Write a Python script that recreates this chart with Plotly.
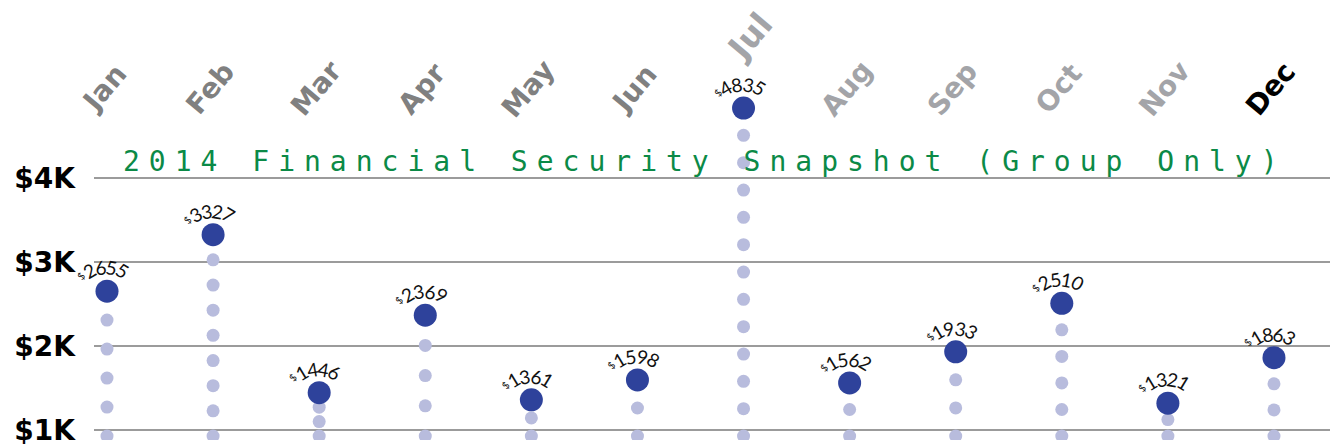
import math
import plotly.graph_objects as go

# ---------------- data ----------------
months = ["Jan", "Feb", "Mar", "Apr", "May", "Jun", "Jul", "Aug", "Sep", "Oct", "Nov", "Dec"]
values = [2655, 3327, 1446, 2369, 1361, 1598, 4835, 1562, 1933, 2510, 1321, 1863]
stem_counts = [5, 8, 3, 4, 2, 2, 12, 2, 3, 5, 2, 3]
y_ticks = [1000, 2000, 3000, 4000]
y_tick_labels = ["$1K", "$2K", "$3K", "$4K"]
title_text = "2014 Financial Security Snapshot (Group Only)"

# ---------------- style ----------------
W, H = 1330, 447
STEM_BASE = 930
BIG_COLOR = "#2E429B"
SMALL_COLOR = "#B8BCDD"
GRID_COLOR = "#9B9B9B"
TITLE_COLOR = "#0B8A47"
BOLD_FONT = "DejaVu Sans"
month_color = {m: "#808080" for m in months[:6]}
month_color.update({m: "#A3A4A8" for m in months[6:11]})
month_color["Dec"] = "#000000"
raised_month = "Jul"

# stems: evenly spaced small dots between the base and each value
sx, sy = [], []
for m, v, n in zip(months, values, stem_counts):
    step = (v - STEM_BASE) / n
    for i in range(n):
        sx.append(m)
        sy.append(STEM_BASE + i * step)

fig = go.Figure()
fig.add_trace(go.Scatter(x=sx, y=sy, mode="markers", hoverinfo="skip",
                         marker=dict(size=13, color=SMALL_COLOR), showlegend=False))
fig.add_trace(go.Scatter(x=months, y=values, mode="markers", hoverinfo="x+y",
                         marker=dict(size=23, color=BIG_COLOR), showlegend=False))

annotations = []
# arced value labels, one annotation per character
R, CX, CY = 40, -1, 16
STEP_DEG = 16.5
TILT = 1.25  # glyph rotation exaggeration along the arc
for m, v in zip(months, values):
    chars = [("$", -1.5 * STEP_DEG - 14, 10)] + \
            [(d, (i - 1.5) * STEP_DEG, 19) for i, d in enumerate(str(v))]
    for ch, ang, size in chars:
        a = math.radians(ang)
        px = CX + R * math.sin(a)
        py = CY - R * math.cos(a)
        annotations.append(dict(x=m, y=v, xref="x", yref="y", text=ch, showarrow=False,
                                xanchor="center", yanchor="middle", xshift=px, yshift=-py,
                                textangle=ang * TILT,
                                font=dict(family="Lato", size=size, color="#111111")))

# month labels on top
for m in months:
    raised = (m == raised_month)
    py = 37 if raised else 90
    annotations.append(dict(x=m, y=1 - py / H, xref="x", yref="paper", text=m, showarrow=False,
                            xanchor="center", yanchor="middle", xshift=6 if raised else -3,
                            textangle=-50,
                            font=dict(family=BOLD_FONT, size=33 if raised else 28,
                                      color=month_color[m], weight="bold")))

# title
annotations.append(dict(x=(121 - 94) / (W - 94), y=1 - 183 / H, xref="paper", yref="paper",
                        text='<span style="letter-spacing:9px">' + title_text + "</span>",
                        showarrow=False, xanchor="left", yanchor="bottom",
                        font=dict(family="DejaVu Sans Mono", size=28, color=TITLE_COLOR)))

PX_1K, PX_4K = 437, 181
per_px = 3000 / (PX_1K - PX_4K)
y_lo = 1000 - (H - PX_1K) * per_px
y_hi = 1000 + PX_1K * per_px

fig.update_layout(
    width=W, height=H,
    margin=dict(l=94, r=0, t=0, b=0),
    paper_bgcolor="white", plot_bgcolor="white",
    xaxis=dict(type="category", categoryorder="array", categoryarray=months,
               range=[-0.1225, 11.528], showgrid=False, zeroline=False,
               showticklabels=False, showline=False),
    yaxis=dict(range=[y_lo, y_hi], tickvals=y_ticks, ticktext=y_tick_labels,
               showgrid=True, gridcolor=GRID_COLOR, gridwidth=2, zeroline=False,
               showline=False, ticks="", ticklabelstandoff=18, ticklabeloverflow="allow",
               tickfont=dict(family=BOLD_FONT, size=28, color="#000000", weight="bold")),
    annotations=annotations,
)

fig.write_html("out.html", config={"displayModeBar": False},
               post_script="document.body.style.margin='0px';document.body.style.overflow='hidden';")
